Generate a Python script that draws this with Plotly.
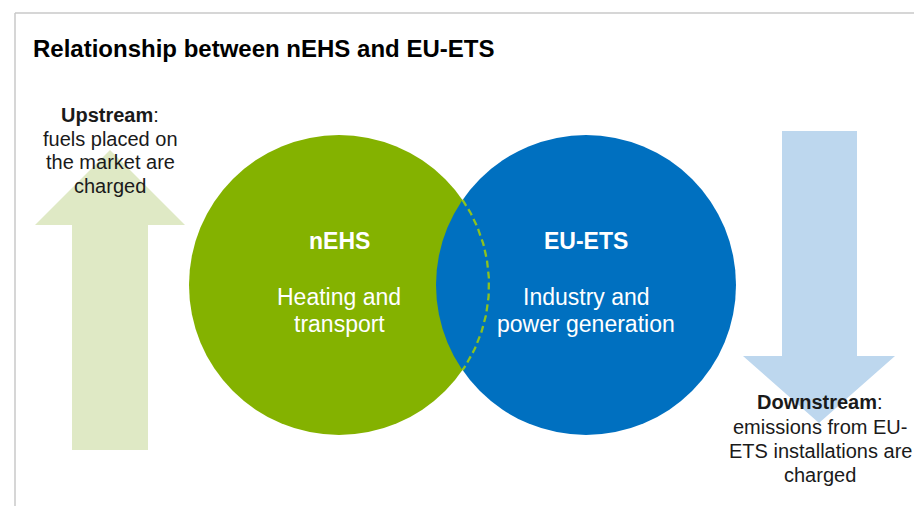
import numpy as np
import plotly.graph_objects as go

# ---- content ----
title_text = "Relationship between nEHS and EU-ETS"
circle_names = ["nEHS", "EU-ETS"]
circle_lines = [["Heating and", "transport"], ["Industry and", "power generation"]]
up_lines = ["<b>Upstream</b>:", "fuels placed on", "the market are", "charged"]
down_lines = ["<b>Downstream</b>:", "emissions from EU-", "ETS installations are", "charged"]

W, H = 914, 506
GREEN = "#84B200"
BLUE = "#0070C0"
UP_FILL = "#DFE9C5"
DOWN_FILL = "#BDD7EE"
DASH = "#8DC21F"
TXT = "#1a1a1a"

fig = go.Figure()

# circle geometry
cx = [339, 586]
cy = 285
r = 150

shapes = []
# border
shapes.append(dict(type="line", x0=15, y0=13, x1=W + 5, y1=13, line=dict(color="#C9C9C9", width=1.5)))
shapes.append(dict(type="line", x0=15, y0=13, x1=15, y1=H + 5, line=dict(color="#C9C9C9", width=1.5)))

# up arrow
up = [(72, 450), (72, 225), (35, 225), (110, 150), (185, 225), (148, 225), (148, 450)]
shapes.append(dict(type="path", path="M " + " L ".join(f"{x},{y}" for x, y in up) + " Z",
                   fillcolor=UP_FILL, line=dict(width=0), layer="below"))
# down arrow
dn = [(782, 131), (857, 131), (857, 356), (895, 356), (819, 423), (743, 356), (782, 356)]
shapes.append(dict(type="path", path="M " + " L ".join(f"{x},{y}" for x, y in dn) + " Z",
                   fillcolor=DOWN_FILL, line=dict(width=0), layer="below"))

# circles
shapes.append(dict(type="circle", x0=cx[0] - r, x1=cx[0] + r, y0=cy - r, y1=cy + r,
                   fillcolor=GREEN, line=dict(width=0), layer="below"))
shapes.append(dict(type="circle", x0=cx[1] - r, x1=cx[1] + r, y0=cy - r, y1=cy + r,
                   fillcolor=BLUE, line=dict(width=0), layer="below"))

# dashed arc of green circle inside blue circle
d = cx[1] - cx[0]
half = np.arccos((d / 2) / r)
t = np.linspace(-half, half, 80)
fig.add_trace(go.Scatter(x=cx[0] + r * np.cos(t), y=cy + r * np.sin(t), mode="lines",
                         line=dict(color=DASH, width=2.3, dash="7px,4px"),
                         hoverinfo="skip", showlegend=False))

ann = []
BODY_FONT = "Liberation Sans, Arial, sans-serif"
ann.append(dict(x=31, y=48, text="<b>" + title_text + "</b>", showarrow=False, xanchor="left",
                yanchor="middle", font=dict(family=BODY_FONT, size=24, color="#000000")))

for i in range(2):
    ann.append(dict(x=cx[i], y=241, text="<b>" + circle_names[i] + "</b>", showarrow=False,
                    xanchor="center", yanchor="middle", font=dict(family=BODY_FONT, size=23, color="white")))
    for j, line in enumerate(circle_lines[i]):
        ann.append(dict(x=cx[i], y=297 + j * 26.5, text=line, showarrow=False,
                        xanchor="center", yanchor="middle", font=dict(family=BODY_FONT, size=23, color="white")))

up_y = [115, 138.5, 162, 185.5]
for line, y in zip(up_lines, up_y):
    ann.append(dict(x=110, y=y, text=line, showarrow=False, xanchor="center", yanchor="middle",
                    font=dict(family=BODY_FONT, size=20, color=TXT)))
dn_y = [402, 426.5, 451, 475]
for line, y in zip(down_lines, dn_y):
    ann.append(dict(x=820, y=y, text=line, showarrow=False, xanchor="center", yanchor="middle",
                    font=dict(family=BODY_FONT, size=20, color=TXT)))

fig.update_layout(
    width=W, height=H,
    margin=dict(l=0, r=0, t=0, b=0),
    paper_bgcolor="white", plot_bgcolor="white",
    xaxis=dict(range=[0, W], visible=False, fixedrange=True),
    yaxis=dict(range=[H, 0], visible=False, fixedrange=True),
    shapes=shapes, annotations=ann, showlegend=False,
)

fig.write_html("out.html", config={"displayModeBar": False},
               post_script="document.body.style.margin='0';document.body.style.overflow='hidden';")
